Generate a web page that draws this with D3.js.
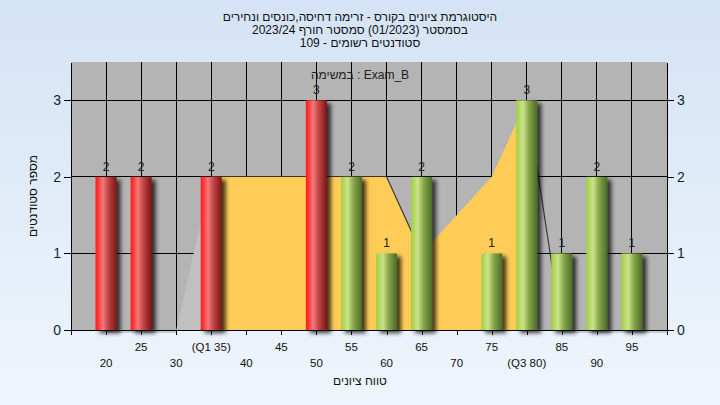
<!DOCTYPE html>
<html>
<head>
<meta charset="utf-8">
<script src="https://cdn.jsdelivr.net/npm/d3@7/dist/d3.min.js"></script>
<style>
  html, body { margin: 0; padding: 0; }
  body { width: 720px; height: 405px; overflow: hidden; }
  text { font-family: "Liberation Sans", Arial, sans-serif; }
</style>
</head>
<body>
<svg id="chart" width="720" height="405"></svg>
<script>
// ---- data ----
const categories = ["20","25","30","35","40","45","50","55","60","65","70","75","80","85","90","95"];
const tickLabels = ["20","25","30","(Q1 35)","40","45","50","55","60","65","70","75","(Q3 80)","85","90","95"];
const counts = [2,2,0,2,0,0,3,2,1,2,0,1,3,1,2,1];
const rangeArea = [0,0,0,2,2,2,2,2,2,1,1.5,2,3,0,0,0];
const passMark = 55;
const q1 = "35", q3 = "80";
const yTicks = [0,1,2,3];
const titleLines = [
  "היסטוגרמת ציונים בקורס - זרימה דחיסה,כונסים ונחירים",
  "בסמסטר  (01/2023)  סמסטר חורף 2023/24",
  "סטודנטים רשומים - 109"
];
const subtitle = "במשימה : Exam_B";
const xTitle = "טווח ציונים";
const yTitle = "מספר סטודנטים";

// ---- layout ----
const W = 720, H = 405;
const plot = {left: 71, right: 667, top: 62, bottom: 330};

const svg = d3.select("#chart");
const defs = svg.append("defs");

// background gradient
const bg = defs.append("linearGradient").attr("id","bg").attr("x1",0).attr("y1",0).attr("x2",0).attr("y2",1);
bg.append("stop").attr("offset","0%").attr("stop-color","#d4e3f5");
bg.append("stop").attr("offset","100%").attr("stop-color","#eff5fc");

function cyl(id, stops) {
  const g = defs.append("linearGradient").attr("id",id).attr("x1",0).attr("y1",0).attr("x2",1).attr("y2",0);
  stops.forEach(s => g.append("stop").attr("offset", s[0]).attr("stop-color", s[1]));
}
cyl("redBar", [["0%","#ff1c1c"],["12%","#ff3434"],["35%","#f27a7a"],["60%","#c24646"],["100%","#7c1616"]]);
cyl("greenBar", [["0%","#a4cf48"],["12%","#b0d65a"],["32%","#cbe48c"],["60%","#86a648"],["100%","#4c6a2a"]]);

const shadow = defs.append("filter").attr("id","shadow").attr("x","-50%").attr("y","-10%").attr("width","200%").attr("height","130%");
shadow.append("feGaussianBlur").attr("in","SourceAlpha").attr("stdDeviation",2).attr("result","b");
shadow.append("feOffset").attr("in","b").attr("dx",4).attr("dy",3).attr("result","o");
shadow.append("feComponentTransfer").attr("in","o").attr("result","s")
  .append("feFuncA").attr("type","linear").attr("slope",0.75);
const merge = shadow.append("feMerge");
merge.append("feMergeNode").attr("in","s");
merge.append("feMergeNode").attr("in","SourceGraphic");

svg.append("rect").attr("width",W).attr("height",H).attr("fill","url(#bg)");

// scales
const x = d3.scalePoint().domain(categories).range([plot.left, plot.right]).padding(1);
const y = d3.scaleLinear().domain([0, 3.5]).range([plot.bottom, plot.top]);
const step = x.step();
const barW = step * 0.6;

// plot background
svg.append("rect").attr("x",plot.left).attr("y",plot.top)
  .attr("width",plot.right-plot.left).attr("height",plot.bottom-plot.top).attr("fill","#b4b4b4");

// gridlines
const grid = svg.append("g");
grid.selectAll("line.v").data(categories).join("line")
  .attr("x1", d => x(d)).attr("x2", d => x(d))
  .attr("y1", plot.top).attr("y2", plot.bottom)
  .attr("stroke","#000").attr("stroke-width",1).attr("shape-rendering","crispEdges");
grid.selectAll("line.h").data(yTicks.filter(v => v > 0)).join("line")
  .attr("x1", plot.left).attr("x2", plot.right)
  .attr("y1", d => y(d)).attr("y2", d => y(d))
  .attr("stroke","#000").attr("stroke-width",1).attr("shape-rendering","crispEdges");

// range area (Q1..Q3 yellow, left tail light grey)
const areaData = categories.map((c,i) => ({c, v: rangeArea[i]}));
const area = d3.area().x(d => x(d.c)).y0(y(0)).y1(d => y(d.v));
defs.append("clipPath").attr("id","clipQ").append("rect")
  .attr("x", x(q1)).attr("y", plot.top).attr("width", x(q3) - x(q1)).attr("height", plot.bottom - plot.top);
defs.append("clipPath").attr("id","clipL").append("rect")
  .attr("x", plot.left).attr("y", plot.top).attr("width", x(q1) - plot.left).attr("height", plot.bottom - plot.top);
svg.append("path").datum(areaData).attr("d", area).attr("fill","#c0c0c0").attr("clip-path","url(#clipL)");
svg.append("path").datum(areaData).attr("d", area).attr("fill","#ffcc58").attr("clip-path","url(#clipQ)");
// descending edges
const segs = [];
for (let i = 0; i < areaData.length - 1; i++) {
  if (areaData[i+1].v < areaData[i].v) segs.push([areaData[i], areaData[i+1]]);
}
svg.selectAll("line.edge").data(segs).join("line")
  .attr("x1", d => x(d[0].c)).attr("y1", d => y(d[0].v))
  .attr("x2", d => x(d[1].c)).attr("y2", d => y(d[1].v))
  .attr("stroke","#3a3a3a").attr("stroke-width",1.2);

// baseline edges for zero-area tails
const zeroRuns = [[categories[0], categories[2]], [categories[13], null]];
svg.selectAll("line.base").data(zeroRuns).join("line")
  .attr("x1", d => x(d[0])).attr("x2", d => d[1] ? x(d[1]) : plot.right)
  .attr("y1", y(0) + 2).attr("y2", y(0) + 2)
  .attr("stroke","#9aa4b0").attr("stroke-width",1);

// bars
const barData = categories.map((c,i) => ({c, v: counts[i]})).filter(d => d.v > 0);
svg.append("g").selectAll("rect").data(barData).join("rect")
  .attr("x", d => x(d.c) - barW/2)
  .attr("y", d => y(d.v))
  .attr("width", barW)
  .attr("height", d => y(0) - y(d.v))
  .attr("fill", d => +d.c >= passMark ? "url(#greenBar)" : "url(#redBar)")
  .attr("filter","url(#shadow)");

// value labels
svg.append("g").selectAll("text").data(barData).join("text")
  .attr("x", d => x(d.c)).attr("y", d => y(d.v) - 6)
  .attr("text-anchor","middle").attr("font-size",12).attr("fill","#1a1a1a")
  .text(d => d.v);

// axes
const axL = d3.axisLeft(y).tickValues(yTicks).tickSize(7).tickSizeOuter(0).tickPadding(3).tickFormat(d3.format("d"));
const axR = d3.axisRight(y).tickValues(yTicks).tickSize(7).tickSizeOuter(0).tickPadding(3).tickFormat(d3.format("d"));
const axB = d3.axisBottom(x).tickSize(5).tickSizeOuter(5).tickFormat("");
const gL = svg.append("g").attr("transform",`translate(${plot.left},0)`).call(axL);
const gR = svg.append("g").attr("transform",`translate(${plot.right},0)`).call(axR);
const gB = svg.append("g").attr("transform",`translate(0,${plot.bottom})`).call(axB);
[gL,gR,gB].forEach(g => {
  g.selectAll("path,line").attr("stroke","#000").attr("shape-rendering","crispEdges");
  g.selectAll("text").attr("font-size",14).attr("fill","#0e1e3a").attr("font-family","Liberation Sans, Arial, sans-serif");
});

// x tick labels, staggered
svg.append("g").selectAll("text").data(categories).join("text")
  .attr("x", d => x(d))
  .attr("y", (d,i) => i % 2 === 1 ? 351 : 367)
  .attr("text-anchor","middle").attr("font-size",11.5).attr("fill","#111")
  .text((d,i) => tickLabels[i]);

// titles
svg.append("g").selectAll("text").data(titleLines).join("text")
  .attr("x", 360).attr("y", (d,i) => 21 + i*13)
  .attr("text-anchor","middle").attr("direction","rtl").attr("font-size",12).attr("fill","#111")
  .text(d => d);
svg.append("text").attr("x",360).attr("y",79).attr("text-anchor","middle")
  .attr("font-size",12).attr("fill","#222").text(subtitle);
svg.append("text").attr("x",360).attr("y",385).attr("text-anchor","middle").attr("direction","rtl")
  .attr("font-size",12).attr("fill","#111").text(xTitle);
svg.append("text").attr("transform",`translate(37,${(plot.top+plot.bottom)/2}) rotate(-90)`)
  .attr("text-anchor","middle").attr("direction","rtl")
  .attr("font-size",12).attr("fill","#111").text(yTitle);
</script>
</body>
</html>
